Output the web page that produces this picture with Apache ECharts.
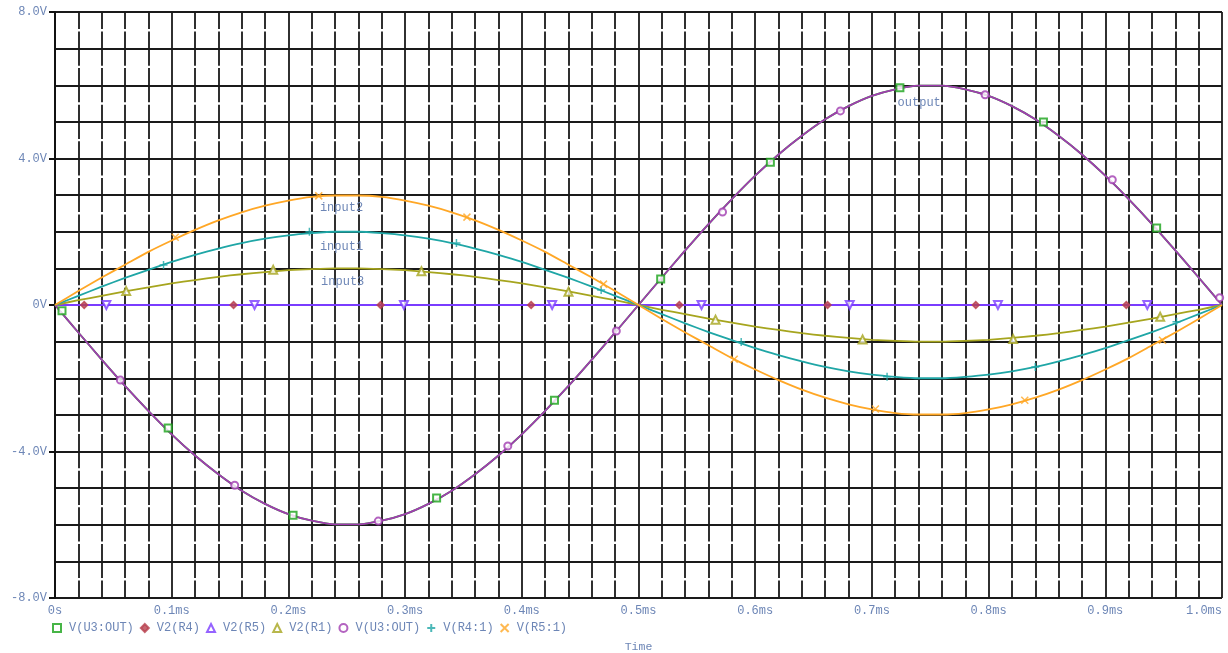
<!DOCTYPE html>
<html>
<head>
<meta charset="utf-8">
<script src="https://cdn.jsdelivr.net/npm/echarts@6/dist/echarts.min.js"></script>
<style>
html,body{margin:0;padding:0;background:#fff;}
#main{width:1228px;height:653px;}
</style>
</head>
<body>
<div id="main"></div>
<script>
// ---- data (time in ms, voltage in V) ----
const T = [0,0.02,0.04,0.06,0.08,0.10,0.12,0.14,0.16,0.18,0.20,0.22,0.24,0.26,0.28,0.30,0.32,0.34,0.36,0.38,0.40,0.42,0.44,0.46,0.48,0.50,0.52,0.54,0.56,0.58,0.60,0.62,0.64,0.66,0.68,0.70,0.72,0.74,0.76,0.78,0.80,0.82,0.84,0.86,0.88,0.90,0.92,0.94,0.96,0.98,1.00];
const outputV = [0,-0.75,-1.49,-2.21,-2.89,-3.53,-4.11,-4.62,-5.07,-5.43,-5.71,-5.89,-5.99,-5.99,-5.89,-5.71,-5.43,-5.07,-4.62,-4.11,-3.53,-2.89,-2.21,-1.49,-0.75,0,0.75,1.49,2.21,2.89,3.53,4.11,4.62,5.07,5.43,5.71,5.89,5.99,5.99,5.89,5.71,5.43,5.07,4.62,4.11,3.53,2.89,2.21,1.49,0.75,0];
const input2V = [0,0.38,0.75,1.10,1.45,1.76,2.05,2.31,2.53,2.71,2.85,2.95,2.99,2.99,2.95,2.85,2.71,2.53,2.31,2.05,1.76,1.45,1.10,0.75,0.38,0,-0.38,-0.75,-1.10,-1.45,-1.76,-2.05,-2.31,-2.53,-2.71,-2.85,-2.95,-2.99,-2.99,-2.95,-2.85,-2.71,-2.53,-2.31,-2.05,-1.76,-1.45,-1.10,-0.75,-0.38,0];
const input1V = [0,0.25,0.50,0.74,0.96,1.18,1.37,1.54,1.69,1.81,1.90,1.96,2.00,2.00,1.96,1.90,1.81,1.69,1.54,1.37,1.18,0.96,0.74,0.50,0.25,0,-0.25,-0.50,-0.74,-0.96,-1.18,-1.37,-1.54,-1.69,-1.81,-1.90,-1.96,-2.00,-2.00,-1.96,-1.90,-1.81,-1.69,-1.54,-1.37,-1.18,-0.96,-0.74,-0.50,-0.25,0];
const input3V = [0,0.13,0.25,0.37,0.48,0.59,0.68,0.77,0.84,0.90,0.95,0.98,1.00,1.00,0.98,0.95,0.90,0.84,0.77,0.68,0.59,0.48,0.37,0.25,0.13,0,-0.13,-0.25,-0.37,-0.48,-0.59,-0.68,-0.77,-0.84,-0.90,-0.95,-0.98,-1.00,-1.00,-0.98,-0.95,-0.90,-0.84,-0.77,-0.68,-0.59,-0.48,-0.37,-0.25,-0.13,0];
const zeroT = [0, 1.0];
const zeroV = [0, 0];

// marker positions
const mkOutGreenT = [0.006,0.097,0.204,0.327,0.428,0.519,0.613,0.724,0.847,0.944];
const mkOutGreenV = [-0.16,-3.36,-5.74,-5.27,-2.60,0.71,3.90,5.93,5.00,2.10];
const mkR4T = [0.025,0.153,0.279,0.408,0.535,0.662,0.789,0.918];
const mkR4V = [0,0,0,0,0,0,0,0];
const mkR5T = [0.044,0.171,0.299,0.426,0.554,0.681,0.808,0.936];
const mkR5V = [0,0,0,0,0,0,0,0];
const mkR1T = [0.061,0.187,0.314,0.440,0.566,0.692,0.821,0.947];
const mkR1V = [0.38,0.96,0.92,0.36,-0.40,-0.94,-0.93,-0.32];
const mkOutPurpleT = [0.056,0.154,0.277,0.388,0.481,0.572,0.673,0.797,0.906,0.998];
const mkOutPurpleV = [-2.05,-4.92,-5.90,-3.85,-0.71,2.54,5.30,5.74,3.42,0.20];
const mkR41T = [0.093,0.218,0.344,0.468,0.588,0.713,0.840,0.961];
const mkR41V = [1.09,2.00,1.69,0.41,-1.01,-1.96,-1.69,-0.46];
const mkR51T = [0.103,0.226,0.353,0.470,0.582,0.703,0.831,0.949];
const mkR51V = [1.85,2.98,2.40,0.57,-1.48,-2.84,-2.60,-0.96];

const legendNames = ['V(U3:OUT)','V2(R4)','V2(R5)','V2(R1)','V(U3:OUT)\u200B','V(R4:1)','V(R5:1)'];
const xTickLabels = ['0s','0.1ms','0.2ms','0.3ms','0.4ms','0.5ms','0.6ms','0.7ms','0.8ms','0.9ms','1.0ms'];
const yTickValues = [-8,-4,0,4,8];
const yTickLabels = ['-8.0V','-4.0V','0V','4.0V','8.0V'];
const annoText = ['input2','input1','input3','output'];
const annoT = [0.227,0.227,0.228,0.722];
const annoV = [2.64,1.59,0.64,5.52];

// ---- chart ----
const pairs = (xs, ys) => xs.map((x, i) => [x, ys[i]]);
const C = {
  green:'#19a319', red:'#b8404e', blue:'#7a3cff', olive:'#a6a51e',
  purple:'#a03cb0', teal:'#1fa6a6', orange:'#ffa726'
};
const labelColor = '#6d86b6';
const mono = '"Liberation Mono", "DejaVu Sans Mono", monospace';

function lineS(name, data, color, z) {
  return {type:'line', name:name, data:data, showSymbol:false, smooth:0.2,
    lineStyle:{color:color, width:1.8}, itemStyle:{color:color}, z:z||2, silent:true};
}
function markS(name, data, color, symbol, size, extra) {
  return Object.assign({type:'scatter', name:name, data:data, symbol:symbol, symbolSize:size,
    itemStyle:{color:color, borderColor:color, borderWidth:1.5}, z:5}, extra||{});
}
const plusPath = 'path://M5,0L5,10M0,5L10,5';
const crossPath = 'path://M0,0L10,10M10,0L0,10';

const chart = echarts.init(document.getElementById('main'), null, {renderer:'canvas'});
const option = {
  animation:false,
  backgroundColor:'#fff',
  grid:{left:55, right:6, top:12, bottom:55, containLabel:false, outerBoundsMode:'none'},
  xAxis:{
    type:'value', min:0, max:1, interval:0.1,
    name:'Time', nameLocation:'middle', nameGap:43,
    nameTextStyle:{color:labelColor, fontFamily:mono, fontSize:11.5},
    axisLine:{show:true, lineStyle:{color:'#111', width:2}},
    axisTick:{show:true, length:5, lineStyle:{color:'#111', width:2}},
    axisLabel:{color:labelColor, fontFamily:mono, fontSize:12, margin:7, alignMaxLabel:'right',
      formatter:(v)=>xTickLabels[Math.round(v*10)]},
    splitLine:{show:true, lineStyle:{color:'#1a1a1a', width:1.8}},
    minorTick:{show:false, splitNumber:5},
    minorSplitLine:{show:true, lineStyle:{color:'#1a1a1a', width:1.8, type:[17.1,2.4,17.1,0]}}
  },
  yAxis:{
    type:'value', min:-8, max:8, interval:4,
    axisLine:{show:true, lineStyle:{color:'#111', width:2}},
    axisTick:{show:true, length:6, lineStyle:{color:'#111', width:2}},
    axisLabel:{color:labelColor, fontFamily:mono, fontSize:12, margin:8,
      formatter:(v)=>yTickLabels[yTickValues.indexOf(v)]},
    splitLine:{show:true, lineStyle:{color:'#1a1a1a', width:1.8}},
    minorTick:{show:false, splitNumber:4},
    minorSplitLine:{show:true, lineStyle:{color:'#1a1a1a', width:1.8}}
  },
  legend:{
    data:legendNames, left:52, top:622, padding:0,
    itemWidth:8, itemHeight:8, itemGap:6, selectedMode:false,
    textStyle:{color:labelColor, fontFamily:mono, fontSize:12, padding:[0,0,0,3]}
  },
  series:[
    lineS('c_out_g', pairs(T, outputV), C.green),
    lineS('c_r4', pairs(zeroT, zeroV), C.red),
    lineS('c_r5', pairs(zeroT, zeroV), C.blue),
    lineS('c_r1', pairs(T, input3V), C.olive),
    lineS('c_out_p', pairs(T, outputV), C.purple),
    lineS('c_r41', pairs(T, input1V), C.teal),
    lineS('c_r51', pairs(T, input2V), C.orange),
    markS(legendNames[0], pairs(mkOutGreenT, mkOutGreenV), C.green, 'emptyRect', 7),
    markS(legendNames[1], pairs(mkR4T, mkR4V), C.red, 'diamond', 7),
    markS(legendNames[2], pairs(mkR5T, mkR5V), C.blue, 'emptyTriangle', 8, {symbolRotate:180}),
    markS(legendNames[3], pairs(mkR1T, mkR1V), C.olive, 'emptyTriangle', 8),
    markS(legendNames[4], pairs(mkOutPurpleT, mkOutPurpleV), C.purple, 'emptyCircle', 7),
    markS(legendNames[5], pairs(mkR41T, mkR41V), C.teal, plusPath, 8),
    markS(legendNames[6], pairs(mkR51T, mkR51V), C.orange, crossPath, 7)
  ]
};
chart.setOption(option);

const graphics = annoText.map((txt, i) => {
  const p = chart.convertToPixel({gridIndex:0}, [annoT[i], annoV[i]]);
  return {type:'text', x:p[0], y:p[1], z:10,
    style:{text:txt, fill:labelColor, font:'12px ' + mono, textAlign:'left', textVerticalAlign:'middle'}};
});
chart.setOption({graphic:graphics});
</script>
</body>
</html>
